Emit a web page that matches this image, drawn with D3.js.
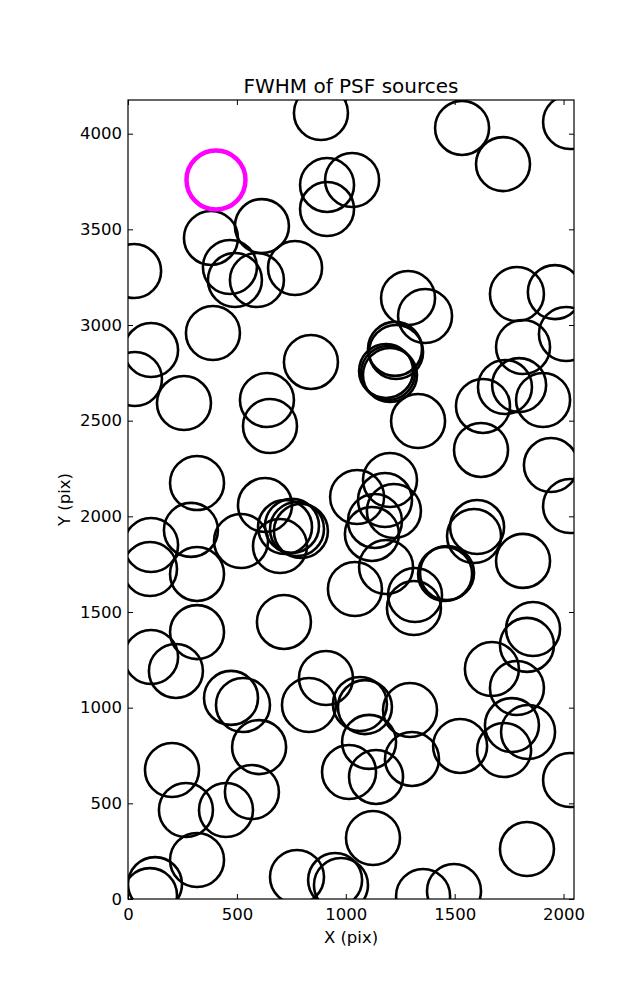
<!DOCTYPE html>
<html>
<head>
<meta charset="utf-8">
<script src="https://cdn.jsdelivr.net/npm/d3@7"></script>
<style>
  html, body { margin: 0; padding: 0; background: #fff; }
  svg { display: block; }
  text { font-family: "DejaVu Sans", sans-serif; fill: #000; }
</style>
</head>
<body>
<svg id="chart" width="637" height="1000"></svg>
<script>
// ---- data ----
const title = "FWHM of PSF sources";
const xLabel = "X (pix)";
const yLabel = "Y (pix)";
const xTicks = [0, 500, 1000, 1500, 2000];
const yTicks = [0, 500, 1000, 1500, 2000, 2500, 3000, 3500, 4000];
const xLimits = [0, 2048];
const yLimits = [0, 4176];

// PSF source positions (pix)
const srcX = [886, 381, 615, 28, 468, 491, 592, 767, 914, 1029, 914, 1534, 1722, 2030,
  1286, 1364, 1786, 1960, 390, 106, 32, 257, 840, 638, 652, 317, 629,
  1226, 1231, 1185, 1194, 1203, 1332, 2011, 1814, 1731, 1796, 1906, 1630, 1621, 1942, 2030,
  1052, 1203, 1180, 1221, 1134, 1120,
  289, 106, 101, 317, 519, 698, 721, 753, 776, 794, 1042, 1185, 1313, 1318, 1456, 1465,
  1589, 1603, 1814, 1860, 1832, 1671, 1786, 716, 317, 106, 220, 473, 528, 831, 909,
  1065, 1088, 1295, 1107, 602, 1015, 1139, 1304, 202, 569, 266, 450, 317, 124, 101,
  1125, 776, 951, 978, 1525, 1727, 1763, 1837, 2030, 1832, 1355, 1497];
const srcY = [4108, 3455, 3517, 3282, 3303, 3235, 3235, 3298, 3732, 3758, 3606, 4030, 3841, 4061,
  3141, 3047, 3162, 3172, 2958, 2869, 2718, 2592, 2807, 2608, 2472, 2174, 2059,
  2875, 2859, 2760, 2749, 2739, 2498, 2953, 2885, 2676, 2686, 2608, 2577, 2347, 2268, 2054,
  2101, 2190, 2085, 2028, 1976, 1908,
  1929, 1850, 1725, 1699, 1871, 1845, 1944, 1950, 1934, 1923, 1620, 1735, 1521, 1589, 1699, 1704,
  1897, 1944, 1767, 1411, 1328, 1202, 1103, 1448, 1395, 1265, 1192, 1051, 1014, 1014, 1155,
  1019, 1003, 988, 821, 794, 664, 638, 732, 674, 559, 465, 465, 204, 78, 20,
  319, 115, 99, 73, 800, 779, 909, 873, 622, 261, 16, 42];

// highlighted source
const hiX = [404];
const hiY = [3758];

// ---- layout ----
(function () {
const svg = d3.select("#chart");
const mLeft = 128, mRight = 574, mTop = 100, mBottom = 899;

const x = d3.scaleLinear().domain(xLimits).range([mLeft, mRight]);
const y = d3.scaleLinear().domain(yLimits).range([mBottom, mTop]);

svg.append("defs").append("clipPath").attr("id", "plotclip")
  .append("rect").attr("x", mLeft).attr("y", mTop)
  .attr("width", mRight - mLeft).attr("height", mBottom - mTop);

const plot = svg.append("g").attr("clip-path", "url(#plotclip)");

const pts = srcX.map((d, i) => ({ x: d, y: srcY[i] }));
plot.selectAll("circle.src").data(pts).enter().append("circle")
  .attr("class", "src")
  .attr("cx", d => x(d.x)).attr("cy", d => y(d.y))
  .attr("r", 27)
  .attr("fill", "none").attr("stroke", "#000").attr("stroke-width", 2.6);

const hi = hiX.map((d, i) => ({ x: d, y: hiY[i] }));
plot.selectAll("circle.hi").data(hi).enter().append("circle")
  .attr("class", "hi")
  .attr("cx", d => x(d.x)).attr("cy", d => y(d.y))
  .attr("r", 29.5)
  .attr("fill", "none").attr("stroke", "#ff00ff").attr("stroke-width", 4.5);

// axes (ticks inward on all four sides)
const tickLen = 5;
const fmt = d3.format("d");
const axB = d3.axisBottom(x).tickValues(xTicks).tickFormat(fmt).tickSizeInner(-tickLen).tickSizeOuter(0).tickPadding(9);
const axT = d3.axisTop(x).tickValues(xTicks).tickFormat("").tickSizeInner(-tickLen).tickSizeOuter(0);
const axL = d3.axisLeft(y).tickValues(yTicks).tickFormat(fmt).tickSizeInner(-tickLen).tickSizeOuter(0).tickPadding(6);
const axR = d3.axisRight(y).tickValues(yTicks).tickFormat("").tickSizeInner(-tickLen).tickSizeOuter(0);

function style(g) {
  g.select(".domain").remove();
  g.selectAll("line").attr("stroke", "#000").attr("stroke-width", 1);
  g.selectAll("text").style("font-family", "'DejaVu Sans', sans-serif").style("font-size", "16.5px").attr("fill", "#000");
}
svg.append("g").attr("transform", `translate(0,${mBottom})`).call(axB).call(style);
svg.append("g").attr("transform", `translate(0,${mTop})`).call(axT).call(style);
svg.append("g").attr("transform", `translate(${mLeft},0)`).call(axL).call(style);
svg.append("g").attr("transform", `translate(${mRight},0)`).call(axR).call(style);

svg.append("rect").attr("x", mLeft).attr("y", mTop)
  .attr("width", mRight - mLeft).attr("height", mBottom - mTop)
  .attr("fill", "none").attr("stroke", "#000").attr("stroke-width", 1.2);

svg.append("text").attr("x", (mLeft + mRight) / 2).attr("y", 93)
  .attr("text-anchor", "middle").style("font-size", "20px").text(title);

svg.append("text").attr("x", (mLeft + mRight) / 2).attr("y", 943)
  .attr("text-anchor", "middle").style("font-size", "16.5px").text(xLabel);

svg.append("text").attr("transform", `translate(69.5,${(mTop + mBottom) / 2}) rotate(-90)`)
  .attr("text-anchor", "middle").style("font-size", "16.5px").text(yLabel);
})();
</script>
</body>
</html>
